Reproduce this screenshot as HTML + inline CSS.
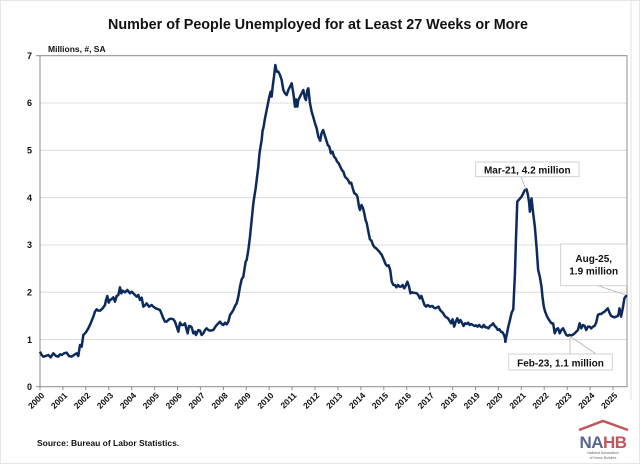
<!DOCTYPE html>
<html><head><meta charset="utf-8"><style>
html,body{margin:0;padding:0;background:#fff;}
svg{display:block;font-family:"Liberation Sans",Arial,sans-serif;}
</style></head><body>
<svg width="640" height="464" viewBox="0 0 640 464" xmlns="http://www.w3.org/2000/svg">
<rect x="0.5" y="0.5" width="639" height="463" fill="#fff" stroke="#e6e6e6"/>
<text x="318" y="29" text-anchor="middle" font-size="15" font-weight="bold" fill="#111" textLength="420" lengthAdjust="spacingAndGlyphs">Number of People Unemployed for at Least 27 Weeks or More</text>
<text x="48" y="52" font-size="8.5" font-weight="bold" fill="#111">Millions, #, SA</text>
<g stroke="#dcdcdc" stroke-width="1">
<line x1="40" x2="627" y1="103" y2="103"/>
<line x1="40" x2="627" y1="150.3" y2="150.3"/>
<line x1="40" x2="627" y1="197.6" y2="197.6"/>
<line x1="40" x2="627" y1="245" y2="245"/>
<line x1="40" x2="627" y1="292.3" y2="292.3"/>
<line x1="40" x2="627" y1="339.6" y2="339.6"/>
</g>
<rect x="40" y="55.7" width="587" height="331" fill="none" stroke="#8c8c8c" stroke-width="1"/>
<line x1="631" y1="0" x2="631" y2="400" stroke="#e0e0e0"/>
<g font-size="9" font-weight="bold" fill="#111" text-anchor="end">
<text x="32" y="59">7</text><text x="32" y="106">6</text><text x="32" y="153.5">5</text>
<text x="32" y="201">4</text><text x="32" y="248">3</text><text x="32" y="295.5">2</text>
<text x="32" y="343">1</text><text x="32" y="390">0</text>
</g>
<g stroke="#8c8c8c">
<line x1="36" x2="40" y1="55.7" y2="55.7"/><line x1="36" x2="40" y1="386.7" y2="386.7"/>
<line x1="40" x2="40" y1="386.7" y2="390"/><line x1="62.9" x2="62.9" y1="386.7" y2="390"/><line x1="85.8" x2="85.8" y1="386.7" y2="390"/><line x1="108.8" x2="108.8" y1="386.7" y2="390"/><line x1="131.7" x2="131.7" y1="386.7" y2="390"/><line x1="154.6" x2="154.6" y1="386.7" y2="390"/><line x1="177.5" x2="177.5" y1="386.7" y2="390"/><line x1="200.4" x2="200.4" y1="386.7" y2="390"/><line x1="223.4" x2="223.4" y1="386.7" y2="390"/><line x1="246.3" x2="246.3" y1="386.7" y2="390"/><line x1="269.2" x2="269.2" y1="386.7" y2="390"/><line x1="292.1" x2="292.1" y1="386.7" y2="390"/><line x1="315" x2="315" y1="386.7" y2="390"/><line x1="338" x2="338" y1="386.7" y2="390"/><line x1="360.9" x2="360.9" y1="386.7" y2="390"/><line x1="383.8" x2="383.8" y1="386.7" y2="390"/><line x1="406.7" x2="406.7" y1="386.7" y2="390"/><line x1="429.6" x2="429.6" y1="386.7" y2="390"/><line x1="452.6" x2="452.6" y1="386.7" y2="390"/><line x1="475.5" x2="475.5" y1="386.7" y2="390"/><line x1="498.4" x2="498.4" y1="386.7" y2="390"/><line x1="521.3" x2="521.3" y1="386.7" y2="390"/><line x1="544.2" x2="544.2" y1="386.7" y2="390"/><line x1="567.2" x2="567.2" y1="386.7" y2="390"/><line x1="590.1" x2="590.1" y1="386.7" y2="390"/><line x1="613" x2="613" y1="386.7" y2="390"/>
</g>
<g font-size="8.5" font-weight="bold" fill="#111" text-anchor="end">
<text transform="translate(45,396) rotate(-45)">2000</text>
<text transform="translate(67.9,396) rotate(-45)">2001</text>
<text transform="translate(90.8,396) rotate(-45)">2002</text>
<text transform="translate(113.8,396) rotate(-45)">2003</text>
<text transform="translate(136.7,396) rotate(-45)">2004</text>
<text transform="translate(159.6,396) rotate(-45)">2005</text>
<text transform="translate(182.5,396) rotate(-45)">2006</text>
<text transform="translate(205.4,396) rotate(-45)">2007</text>
<text transform="translate(228.4,396) rotate(-45)">2008</text>
<text transform="translate(251.3,396) rotate(-45)">2009</text>
<text transform="translate(274.2,396) rotate(-45)">2010</text>
<text transform="translate(297.1,396) rotate(-45)">2011</text>
<text transform="translate(320,396) rotate(-45)">2012</text>
<text transform="translate(343,396) rotate(-45)">2013</text>
<text transform="translate(365.9,396) rotate(-45)">2014</text>
<text transform="translate(388.8,396) rotate(-45)">2015</text>
<text transform="translate(411.7,396) rotate(-45)">2016</text>
<text transform="translate(434.6,396) rotate(-45)">2017</text>
<text transform="translate(457.6,396) rotate(-45)">2018</text>
<text transform="translate(480.5,396) rotate(-45)">2019</text>
<text transform="translate(503.4,396) rotate(-45)">2020</text>
<text transform="translate(526.3,396) rotate(-45)">2021</text>
<text transform="translate(549.2,396) rotate(-45)">2022</text>
<text transform="translate(572.2,396) rotate(-45)">2023</text>
<text transform="translate(595.1,396) rotate(-45)">2024</text>
<text transform="translate(618,396) rotate(-45)">2025</text>
</g>
<g transform="translate(0,40) scale(0.33333)" fill="none" stroke="#0d2a5c" stroke-width="2.5" stroke-linejoin="round">
<polyline vector-effect="non-scaling-stroke" points="
120,935 125,945 130,950 137,948 145,945 152,952 160,940 168,948 175,950 180,943 185,945 192,940 200,938 207,948 215,950 222,945 230,940 235,948 240,915 245,920 250,885 257,878 265,865 272,850 280,830 285,815 290,808 295,812 300,812 308,805 315,795 318,780 322,768 326,788 330,780 334,778 340,772 345,785 350,768 355,765 360,742 364,760 368,752 375,757 382,750 390,760 395,755 402,762 410,770 415,765 420,780 425,773 430,800 435,796 440,790 447,800 455,795 460,800 467,805 475,808 480,810 485,822 490,835 495,845 500,845 507,838 513,836 520,838 525,845 530,860 535,875 540,848 545,855 550,855 555,850 560,870 563,880 567,858 570,858 575,862 580,880 585,875 588,885 595,870 600,872 605,885 610,880 615,870 620,865 625,870 630,872 640,870 645,862 650,855 655,850 660,845 665,852 670,855 675,848 680,853 685,845 690,825 695,818 700,810 705,798 710,790 715,770 720,740 725,718 730,710 733,690 737,665 740,660 745,630 750,590 755,540 760,490 763,470 767,445 770,420 775,380 778,345 780,330 785,300 788,270 790,265 795,235 800,210 804,190 808,170 812,155 815,170 818,140 822,110 826,75 830,95 835,95 840,105 845,120 850,150 855,160 860,165 865,150 870,140 875,130 880,160 885,200 888,178 892,200 895,180 900,170 905,160 910,150 915,175 918,180 922,150 925,145 930,190 935,215 940,232 945,250 950,265 955,290 960,300 960,305"/>
<g transform="translate(960,0) scale(0.936,1) translate(-960,0)">
<polyline vector-effect="non-scaling-stroke" points="960,305 965,280 970,270 975,285 980,300 985,315 990,320 995,340 1000,335 1005,350 1010,355 1015,365 1020,370 1025,380 1030,390 1035,395 1040,410 1045,415 1050,420 1055,430 1060,428 1065,445 1070,460 1075,462 1080,470 1085,500 1088,510 1093,495 1098,505 1102,520 1106,540 1110,550 1115,575 1120,598 1125,602 1130,615 1135,622 1140,625 1150,635 1158,645 1165,660 1170,672 1175,678 1180,676 1185,690 1190,725 1195,735 1200,735 1205,742 1210,735 1215,740 1220,740 1225,735 1230,745 1235,737 1240,725 1245,738 1250,760 1255,757 1260,758 1270,760 1275,765 1280,775 1285,768 1290,782 1295,795 1300,800 1305,795 1312,800 1320,798 1325,803 1330,805 1340,800 1345,810 1350,815 1355,820 1360,828 1365,832 1370,835 1375,842 1380,850 1385,838 1390,860 1395,845 1400,835 1405,848 1410,840 1415,848 1420,858 1425,850 1430,852 1435,848 1440,855 1445,852 1450,855 1455,858 1460,856 1465,860 1470,855 1475,860 1480,862 1485,855 1490,862 1495,862 1500,865 1505,858 1510,855 1515,850 1520,858 1525,862 1530,870 1535,868 1540,875 1545,877 1550,885 1553,895 1555,908"/>
</g>
<g transform="translate(1515,0) scale(0.995,1) translate(-1555,0)">
<polyline vector-effect="non-scaling-stroke" points="1555,908 1560,885 1565,860 1570,840 1575,818 1580,808 1585,700 1588,600 1592,485 1598,478 1605,470 1610,460 1615,450 1620,448 1622,455 1625,470 1628,490 1630,515 1633,490 1635,475 1640,520 1645,560 1650,620 1655,690 1660,710 1665,740 1668,770 1672,800 1676,815 1682,830 1688,840 1695,850 1700,850 1705,880 1710,868 1715,865 1720,880 1725,870 1730,865 1735,875 1740,885 1745,887 1750,885 1755,886 1760,884 1765,880 1770,875 1775,870 1780,850 1785,865 1790,855 1795,858 1800,870 1805,860 1810,860 1815,865 1820,860 1825,858 1830,848 1835,825 1840,822 1845,822 1850,818 1855,815 1860,810 1865,805 1870,818 1875,828 1880,830 1885,832 1890,830 1895,828 1898,820 1900,805 1903,818 1905,830 1910,805 1915,775 1920,768 1922,765"/>
</g>
</g>
<g stroke="#b4b4b4" stroke-width="0.8" fill="none">
<line x1="521" y1="176.7" x2="526" y2="189.5"/>
<line x1="598" y1="285.7" x2="626" y2="295"/>
<line x1="570" y1="354" x2="570" y2="337"/>
<line x1="596" y1="354" x2="571" y2="337"/>
</g>
<g fill="#fff" stroke="#c8c8c8" stroke-width="0.8">
<rect x="475.7" y="162" width="103.3" height="14.7"/>
<rect x="560.7" y="244" width="66" height="41.7"/>
<rect x="508.7" y="354" width="103.6" height="16"/>
</g>
<g font-size="10" font-weight="bold" fill="#111" text-anchor="middle">
<text x="527.3" y="173.5">Mar-21, 4.2 million</text>
<text x="593.7" y="262">Aug-25,</text>
<text x="593.7" y="274.5">1.9 million</text>
<text x="560.5" y="366.5">Feb-23, 1.1 million</text>
</g>
<text x="37" y="446" font-size="8.5" font-weight="bold" fill="#111">Source: Bureau of Labor Statistics.</text>
<polyline points="579,430 603,421 628,430" fill="none" stroke="#c0565b" stroke-width="2.5"/>
<text x="603" y="448" text-anchor="middle" font-size="17" font-weight="bold" fill="#5a6890" letter-spacing="-0.5">NA<tspan fill="#c0565b">HB</tspan></text>
<text x="603" y="454" text-anchor="middle" font-size="3.5" fill="#666">National Association</text>
<text x="603" y="459" text-anchor="middle" font-size="3.5" fill="#666">of Home Builders</text>
</svg>
</body></html>
